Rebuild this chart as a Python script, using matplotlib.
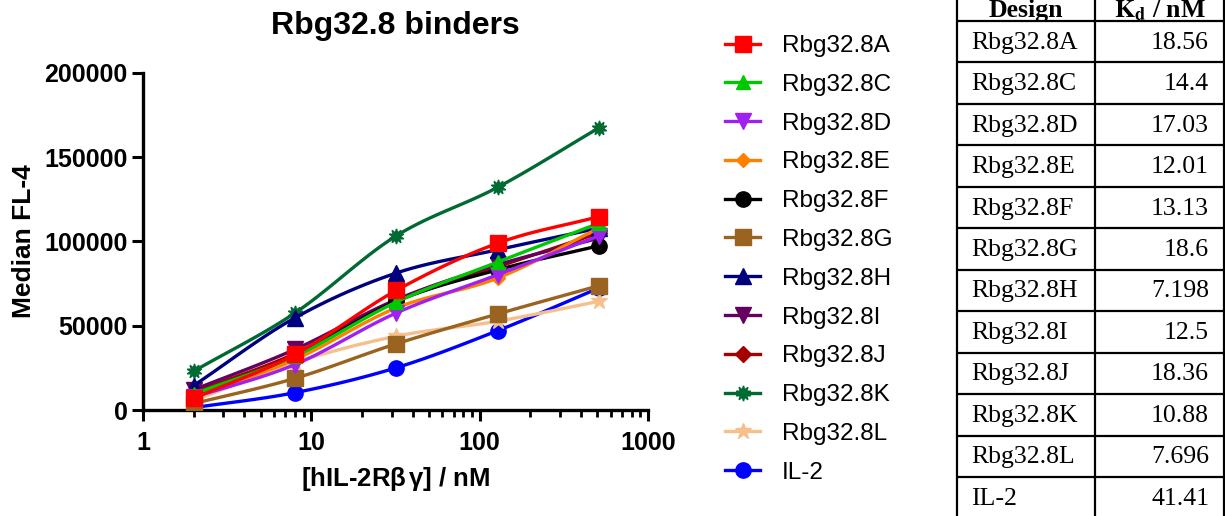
import matplotlib
matplotlib.use("Agg")
import matplotlib.pyplot as plt
import numpy as np

plt.rcParams['font.family'] = ['Liberation Sans', 'DejaVu Sans']
plt.rcParams['mathtext.fontset'] = 'stix'

conc = [2, 8, 32, 128, 512]
names = ["Rbg32.8A", "Rbg32.8C", "Rbg32.8D", "Rbg32.8E", "Rbg32.8F", "Rbg32.8G",
         "Rbg32.8H", "Rbg32.8I", "Rbg32.8J", "Rbg32.8K", "Rbg32.8L", "IL-2"]
fl_A = [7000, 33000, 71000, 99000, 114800]
fl_C = [9500, 32000, 64100, 87800, 110900]
fl_D = [7500, 27000, 57600, 80300, 103400]
fl_E = [8000, 30000, 60600, 78300, 108000]
fl_F = [9000, 32000, 64500, 83200, 97500]
fl_G = [3800, 18800, 39300, 57000, 73800]
fl_H = [14500, 54700, 81300, 95100, 108000]
fl_I = [12000, 36000, 65500, 86200, 102000]
fl_J = [10500, 33500, 65000, 85000, 105000]
fl_K = [23000, 57600, 103400, 132200, 167500]
fl_L = [5500, 28200, 43800, 52700, 64500]
fl_IL2 = [1400, 10300, 25100, 47100, 72400]
kd = ["18.56", "14.4", "17.03", "12.01", "13.13", "18.6", "7.198", "12.5", "18.36",
      "10.88", "7.696", "41.41"]

series = [fl_A, fl_C, fl_D, fl_E, fl_F, fl_G, fl_H, fl_I, fl_J, fl_K, fl_L, fl_IL2]
colors = ['#ff0000', '#00c800', '#a020f0', '#ff8000', '#000000', '#9a6320',
          '#00007f', '#650060', '#a50000', '#006a33', '#f5c08c', '#0000ff']
markers = ['s', '^', 'v', 'D', 'o', 's', '^', 'v', 'D', (10, 1, 0), '*', 'o']
msizes = [11, 10, 11, 7, 11, 12, 11, 11, 8, 11, 12, 11]


def smooth(xs, ys, n=30):
    # cubic Hermite (Catmull-Rom tangents) in log10(x) space, only to draw the curve
    t = np.log10(np.asarray(xs, float))
    y = np.asarray(ys, float)
    h = np.diff(t)
    d = np.diff(y) / h
    m = np.zeros_like(y)
    m[0], m[-1] = d[0], d[-1]
    m[1:-1] = (d[:-1] + d[1:]) / 2
    tt, yy = [], []
    for k in range(len(h)):
        s = np.linspace(0, 1, n, endpoint=False)
        h00 = 2 * s**3 - 3 * s**2 + 1
        h10 = s**3 - 2 * s**2 + s
        h01 = -2 * s**3 + 3 * s**2
        h11 = s**3 - s**2
        tt.extend(t[k] + s * h[k])
        yy.extend(h00 * y[k] + h10 * h[k] * m[k] + h01 * y[k + 1] + h11 * h[k] * m[k + 1])
    tt.append(t[-1])
    yy.append(y[-1])
    return 10 ** np.array(tt), np.array(yy), list(range(0, len(tt), n))


fig = plt.figure(figsize=(12.25, 5.16), dpi=100)
ax = fig.add_axes([143 / 1225, 1 - 410 / 516, 505 / 1225, 337 / 516])

for i in range(len(series)):
    xd, yd, idx = smooth(conc, series[i])
    ax.plot(xd, yd, color=colors[i], lw=2.4, marker=markers[i], ms=msizes[i],
            markevery=idx, label=names[i], zorder=20 - i)

ax.set_xscale('log')
ax.set_xlim(1, 1000)
ax.set_ylim(0, 200000)
ax.set_xticks([1, 10, 100, 1000])
ax.set_xticklabels(['1', '10', '100', '1000'])
ax.set_yticks([0, 50000, 100000, 150000, 200000])
ax.set_yticklabels(['0', '50000', '100000', '150000', '200000'])
for s in ['top', 'right']:
    ax.spines[s].set_visible(False)
for s in ['left', 'bottom']:
    ax.spines[s].set_linewidth(2.4)
ax.tick_params(which='major', length=8, width=2.2, labelsize=18, pad=3)
ax.tick_params(axis='x', which='minor', length=5, width=2.0)
ax.tick_params(axis='x', pad=7)
for lab in ax.get_xticklabels() + ax.get_yticklabels():
    lab.set_fontweight('bold')
ax.set_title('Rbg32.8 binders', fontsize=23, fontweight='bold', pad=28)
ax.set_xlabel('[hIL-2R$\\mathregular{\\beta\\,\\gamma}$] / nM', fontsize=18.5,
              fontweight='bold', labelpad=7)
ax.set_ylabel('Median FL-4', fontsize=19, fontweight='bold', labelpad=6)

fig.legend(loc='upper left', bbox_to_anchor=(725 / 1225, 1 - 35 / 516), frameon=False,
           fontsize=17.5, handlelength=1.44, handletextpad=0.9, labelspacing=0.69,
           borderpad=0, borderaxespad=0)

# Kd table
tb = fig.add_axes([0, 0, 1, 1])
tb.set_xlim(0, 1225)
tb.set_ylim(516, 0)
tb.axis('off')
row_h = 41.45
top = 21.0
tb.vlines([957, 1095, 1224], -30, 530, color='black', lw=1.6)
tb.hlines([top + row_h * i for i in range(len(names))], 957, 1224, color='black', lw=1.6)
tb.text(1026, top - 4, 'Design', fontsize=18.5, fontweight='bold',
        family='Liberation Serif', ha='center', va='baseline')
tb.text(1160, top - 4, r'$\mathbf{K_d}$ / nM', fontsize=18.5, fontweight='bold',
        family='Liberation Serif', ha='center', va='baseline')
for i in range(len(names)):
    yc = top + row_h * (i + 0.5) + 1
    tb.text(971, yc, names[i], fontsize=18.5, family='Liberation Serif', ha='left', va='center')
    tb.text(1209, yc, kd[i], fontsize=18.5, family='Liberation Serif', ha='right', va='center')

fig.savefig('out.png', dpi=100)
